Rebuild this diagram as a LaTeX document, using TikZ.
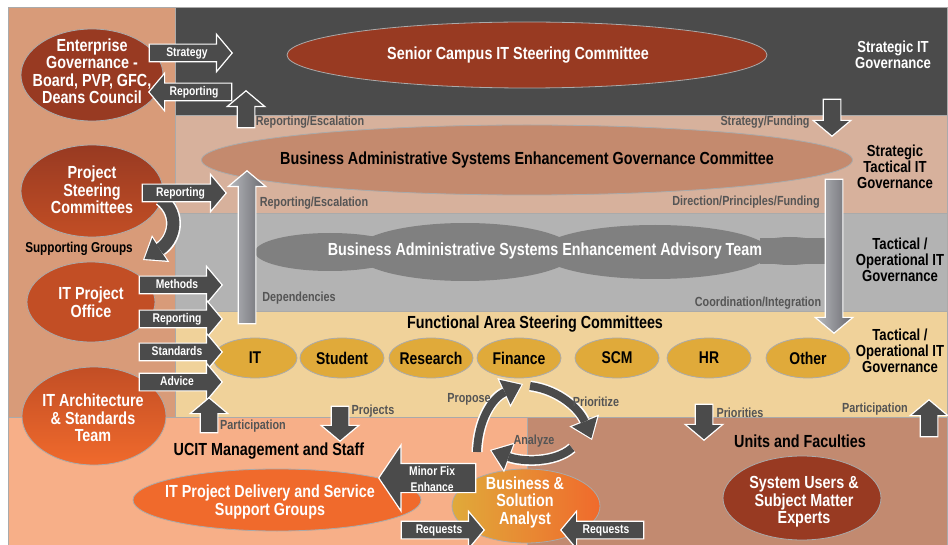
\documentclass[tikz,border=0pt]{standalone}
\usepackage{fontspec}
\setmainfont{Liberation Sans}[FakeStretch=0.82]
\usetikzlibrary{shapes.geometric}
\usetikzlibrary{shapes.arrows}
\usetikzlibrary{arrows.meta}
\definecolor{cdark}{RGB}{75,75,75}
\definecolor{csalmon}{RGB}{216,155,121}
\definecolor{ctan}{RGB}{215,177,156}
\definecolor{cgrey}{RGB}{179,179,179}
\definecolor{cyel}{RGB}{240,210,154}
\definecolor{cpeach}{RGB}{247,175,136}
\definecolor{cbrown}{RGB}{194,138,112}
\definecolor{cred}{RGB}{152,58,34}
\definecolor{crust}{RGB}{194,78,37}
\definecolor{corange}{RGB}{240,106,44}
\definecolor{cgov}{RGB}{196,138,110}
\definecolor{ccloud}{RGB}{128,128,128}
\definecolor{cgold}{RGB}{224,170,58}
\definecolor{cline}{RGB}{170,170,170}
\definecolor{clabel}{RGB}{85,85,85}
\definecolor{cshaftlo}{RGB}{184,186,190}
\definecolor{cshafthi}{RGB}{104,104,110}
\newcommand{\bfsz}[2]{\fontsize{#1}{#2}\selectfont\bfseries}

\tikzset{
  band/.style={draw=cline, line width=0.6pt},
  oval/.style={ellipse, draw=cline, line width=0.8pt, inner sep=0pt},
  faoval/.style={oval, fill=cgold, minimum width=84, minimum height=40},
  intext/.style={align=center, text=white, font=\bfsz{17.5}{17.5}},
  blktext/.style={align=center, text=black, font=\bfsz{16}{16}},
  bigtext/.style={blktext, font=\bfsz{17.5}{18}},
  gtext/.style={text=clabel, font=\bfsz{13.2}{15}, inner sep=1pt},
  barrow/.style={single arrow, draw=white, line width=1.2pt, fill=cdark, text=white,
    single arrow tip angle=100, single arrow head extend=10pt,
    inner xsep=1pt, inner ysep=3.5pt, text height=8pt, text depth=1.5pt,
    font=\bfsz{12.6}{14}},
  garrow/.style={barrow, left color=cshaftlo, right color=cshafthi},
  curvewhite/.style={white, line width=11pt, -{Triangle[length=21pt, width=32pt, line width=0pt]}},
  curvedark/.style={cdark, line width=8pt, shorten >=1.8pt, -{Triangle[length=18pt, width=27pt, line width=0pt]}},
}

\begin{document}
\begin{tikzpicture}[x=1pt, y=-1pt]
    \useasboundingbox (0,0) rectangle (948,545);
    \fill[white] (0,0) rectangle (948,545);
    % governance levels, top to bottom
    \draw[band, fill=csalmon] (8,7) rectangle (175,417);
    \draw[band, fill=cdark] (175,7) rectangle (947,115);
    \draw[band, fill=ctan] (175,115) rectangle (947,213);
    \draw[band, fill=cgrey] (175,213) rectangle (947,311);
    \draw[band, fill=cyel] (175,311) rectangle (947,417);
    \draw[band, fill=cpeach] (8,417) rectangle (527,546);
    \draw[band, fill=cbrown] (527,417) rectangle (947,546);

    % committees in the bands
    \node[oval, fill=cred, minimum width=480, minimum height=66] (senior) at (527,55) {};
    \node[intext] (senior-txt) at ([xshift=-9pt]senior.center) {Senior Campus IT Steering Committee};
    \node[oval, fill=cgov, minimum width=651, minimum height=70] (basegov) at (527,160) {};
    \node[bigtext] (basegov-txt) at (basegov) {Business Administrative Systems Enhancement Governance Committee};
    % the advisory team cloud, built from overlapping puffs
    \fill[ccloud] (330,252) ellipse (75 and 19);
    \fill[ccloud] (465,252) ellipse (110 and 29);
    \fill[ccloud] (655,252) ellipse (115 and 27);
    \fill[ccloud] (790,251) ellipse (40 and 14);
    \fill[ccloud] (760,238) rectangle (825,264);
    \node[intext] (advteam) at (545,251) {Business Administrative Systems Enhancement Advisory Team};
    \node[bigtext] (fasc) at (535,324) {Functional Area Steering Committees};
    \foreach \area/\x in {IT/255, Student/342, Research/431, Finance/519, SCM/617, HR/709, Other/808}{
        \node[faoval] (fa\area) at (\x,358) {};
        \node[blktext, font=\bfsz{17}{18}] (fa\area-txt) at (fa\area) {\area};
    }

    % level names on the right
    \node[blktext, text=white] (lvl1) at (893,55) {Strategic IT\\Governance};
    \node[blktext] (lvl2) at (895,167) {Strategic\\Tactical IT\\Governance};
    \node[blktext] (lvl3) at (900,260) {Tactical /\\Operational IT\\Governance};
    \node[blktext] (lvl4) at (900,351) {Tactical /\\Operational IT\\Governance};

    % left column groups
    \node[oval, fill=cred, minimum width=142, minimum height=92] (entgov) at (92,75) {};
    \node[intext] (entgov-txt) at (92,71) {Enterprise\\Governance -\\Board, PVP, GFC,\\Deans Council};
    \node[oval, top color=cred, bottom color=crust, minimum width=142, minimum height=92] (steer) at (92,191) {};
    \node[intext] (steer-txt) at (92,190) {Project\\Steering\\Committees};
    \node[blktext, font=\bfsz{14.3}{15}] (support) at (79,249) {Supporting Groups};
    \node[oval, fill=crust, minimum width=128, minimum height=80] (pmo) at (91,302) {};
    \node[intext] (pmo-txt) at (91,302) {IT Project\\Office};
    \node[oval, top color=crust, bottom color=corange, minimum width=144, minimum height=98] (arch) at (94,416) {};
    \node[intext] (arch-txt) at (93,418) {IT Architecture\\\& Standards\\Team};

    % bottom: staff and units
    \node[bigtext] (ucit) at (269,451) {UCIT Management and Staff};
    \node[oval, fill=corange, minimum width=288, minimum height=62] (delivery) at (277,500) {};
    \node[intext] (delivery-txt) at (270,502) {IT Project Delivery and Service\\Support Groups};
    \node[oval, left color=cgold, right color=corange, minimum width=148, minimum height=74] (analyst) at (526,506) {};
    \node[intext] (analyst-txt) at (525,502) {Business \&\\Solution\\Analyst};
    \node[bigtext] (units) at (800,441) {Units and Faculties};
    \node[oval, fill=cred, minimum width=158, minimum height=84] (users) at (802,498) {};
    \node[intext] (users-txt) at (804,502) {System Users \&\\Subject Matter\\Experts};

    % long grey arrows between the bands
    \node[garrow, rotate=90, minimum height=153, anchor=tip] (escup) at (247,170) {};
    \node[garrow, rotate=-90, minimum height=154, anchor=tip] (dirdown) at (834,334) {};

    % curved arrows: supporting groups and the propose/prioritize/analyze cycle
    \draw[curvewhite, line width=15pt] (161,199) .. controls (181,215) and (174,240) .. (143,260);
    \draw[curvedark, line width=12pt] (161,199) .. controls (181,215) and (174,240) .. (143,260);
    \draw[curvewhite] (477,452) .. controls (478,420) and (492,398) .. (523,384);
    \draw[curvedark] (477,452) .. controls (478,420) and (492,398) .. (523,384);
    \draw[curvewhite] (530,386) .. controls (560,390) and (580,410) .. (592,440);
    \draw[curvedark] (530,386) .. controls (560,390) and (580,410) .. (592,440);
    \draw[curvewhite] (572,448) .. controls (555,463) and (522,462) .. (490,450);
    \draw[curvedark] (572,448) .. controls (555,463) and (522,462) .. (490,450);

    % block arrows
    \node[barrow, minimum height=83, anchor=tip] (strategy) at (233,53) {Strategy};
    \node[barrow, shape border rotate=180, minimum height=83, anchor=tip] (entrep) at (148,92) {Reporting};
    \node[barrow, rotate=90, minimum height=37, anchor=tip] (escalate) at (246,90) {};
    \node[barrow, rotate=-90, minimum height=37, anchor=tip] (fundown) at (832,137) {};
    \node[barrow, minimum height=84, anchor=tip] (steerrep) at (227,193) {Reporting};
    \foreach \lbl/\y in {Methods/285, Reporting/319, Standards/352, Advice/382}
        \node[barrow, minimum height=83, anchor=tip] (pmo\lbl) at (223,\y) {\lbl};
    \node[barrow, rotate=90, minimum height=35, anchor=tip] (partleft) at (209,397) {};
    \node[barrow, rotate=-90, minimum height=35, anchor=tip] (projdown) at (340,442) {};
    \node[barrow, rotate=-90, minimum height=36, anchor=tip] (priodown) at (704,441) {};
    \node[barrow, rotate=90, minimum height=37, anchor=tip] (partright) at (929,399) {};
    \node[barrow, shape border rotate=180, minimum height=97, single arrow head extend=18.5pt,
        single arrow tip angle=112, text height=26pt, text depth=0pt, inner ysep=1pt,
        align=center, font=\bfsz{12.6}{16}, anchor=tip] (minorfix) at (378,478) {Minor Fix\\Enhance};
    \node[barrow, minimum height=83, anchor=tip] (reqleft) at (485,530) {Requests};
    \node[barrow, shape border rotate=180, minimum height=83, anchor=tip] (reqright) at (560,530) {Requests};

    % arrow captions
    \node[gtext] (cap1) at (310,122) {Reporting/Escalation};
    \node[gtext] (cap2) at (765,122) {Strategy/Funding};
    \node[gtext] (cap3) at (314,203) {Reporting/Escalation};
    \node[gtext] (cap4) at (746,202) {Direction/Principles/Funding};
    \node[gtext] (cap5) at (299,298) {Dependencies};
    \node[gtext] (cap6) at (758,303) {Coordination/Integration};
    \node[gtext] (cap7) at (253,426) {Participation};
    \node[gtext] (cap8) at (373,411) {Projects};
    \node[gtext] (cap9) at (469,399) {Propose};
    \node[gtext] (cap10) at (596,402) {Prioritize};
    \node[gtext] (cap11) at (534,441) {Analyze};
    \node[gtext] (cap12) at (740,413) {Priorities};
    \node[gtext] (cap13) at (875,409) {Participation};
\end{tikzpicture}
\end{document}
